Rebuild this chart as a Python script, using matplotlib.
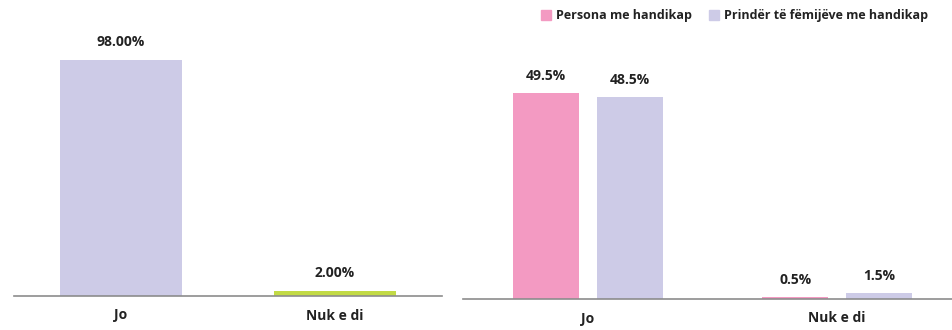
import numpy as np
import matplotlib.pyplot as plt
from matplotlib.patches import Patch

categories = ["Jo", "Nuk e di"]
left_values = [98.00, 2.00]
left_labels = ["98.00%", "2.00%"]
series_names = ["Persona me handikap", "Prindër të fëmijëve me handikap"]
persona = [49.5, 0.5]
prinder = [48.5, 1.5]

lilac = "#CDCBE7"
pink = "#F39AC2"
green = "#C2DA45"
W, H = 953, 330

plt.rcParams['font.family'] = ['Open Sans', 'DejaVu Sans']
fig = plt.figure(figsize=(W / 100, H / 100), dpi=100)

# left chart
ax1 = fig.add_axes([14 / W, (H - 296) / H, 428 / W, 276 / H])
x = np.arange(len(categories))
ax1.bar(x, left_values, width=0.57, color=[lilac, green])
for xi, v, lab in zip(x, left_values, left_labels):
    ax1.text(xi, v + 4.5, lab, ha="center", va="bottom", fontsize=10, fontweight="bold", color="#222222")
ax1.set_xlim(-0.5, 1.5)
ax1.set_ylim(0, 276 / 2.408)

# right chart
ax2 = fig.add_axes([463.5 / W, (H - 299) / H, 489.5 / W, 259 / H])
bw = 0.267
ax2.bar(x - 0.168, persona, width=bw, color=pink)
ax2.bar(x + 0.168, prinder, width=bw, color=lilac)
for xi, v in zip(x - 0.168, persona):
    ax2.text(xi, v + 2.4, f"{v}%", ha="center", va="bottom", fontsize=10, fontweight="bold", color="#222222")
for xi, v in zip(x + 0.168, prinder):
    ax2.text(xi, v + 2.4, f"{v}%", ha="center", va="bottom", fontsize=10, fontweight="bold", color="#222222")
ax2.set_xlim(-0.5, -0.5 + 489.5 / 249)
ax2.set_ylim(0, 259 / 4.16)

for ax in (ax1, ax2):
    for s in ("top", "right", "left"):
        ax.spines[s].set_visible(False)
    ax.spines["bottom"].set_color("#8C8C8C")
    ax.spines["bottom"].set_linewidth(1.2)
    ax.set_yticks([])
    ax.set_xticks(x)
    ax.set_xticklabels(categories, fontsize=10, fontweight="bold", color="#222222")
    ax.tick_params(axis="x", length=0, pad=9)

handles = [Patch(color=pink), Patch(color=lilac)]
leg = fig.legend(handles, series_names, loc="center left", bbox_to_anchor=(536 / W, 1 - 16 / H),
                 ncol=2, frameon=False, fontsize=9, handlelength=0.8, handleheight=0.9,
                 handletextpad=0.4, columnspacing=1.4, borderaxespad=0)
for t in leg.get_texts():
    t.set_fontweight("bold")
    t.set_color("#222222")

fig.savefig("out.png", dpi=100)
